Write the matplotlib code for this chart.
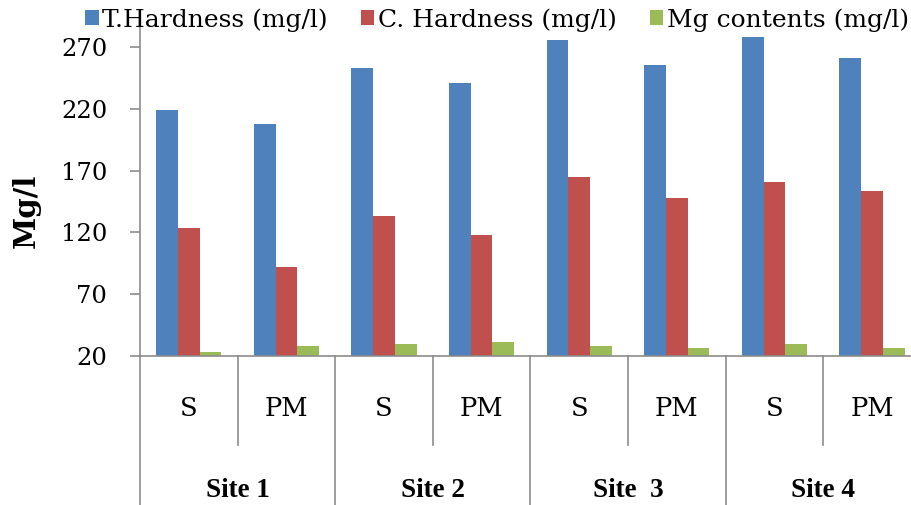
import matplotlib
matplotlib.use("Agg")
import matplotlib.pyplot as plt
import numpy as np

sites = ["Site 1", "Site 2", "Site  3", "Site 4"]
subcats = ["S", "PM"]
series_names = ["T.Hardness (mg/l)", "C. Hardness (mg/l)", "Mg contents (mg/l)"]
t_hardness = [219, 208, 253, 241, 276, 256, 278, 261]
c_hardness = [124, 92, 133, 118, 165, 148, 161, 154]
mg_contents = [23.5, 28, 29.5, 31, 28, 26.5, 29.5, 26.5]
yticks = [20, 70, 120, 170, 220, 270]

colors = ["#4F81BD", "#C0504D", "#9BBB59"]
axis_col = "#8C8C8C"

W, H = 911, 505
fig = plt.figure(figsize=(W / 100, H / 100), dpi=100)

# axes geometry in pixels
x0, xw = 140, 8 * 97.6
y_base, y_top = 356, 25
ax = fig.add_axes([x0 / W, 1 - y_base / H, xw / W, (y_base - y_top) / H])
ax.set_xlim(0, 8)
ax.set_ylim(20, 288)

n = len(t_hardness)
x = np.arange(n) + 0.5
bw = 0.222
for k, vals in enumerate([t_hardness, c_hardness, mg_contents]):
    ax.bar(x + (k - 1) * bw, vals, width=bw, color=colors[k], label=series_names[k],
           edgecolor="none", zorder=2)

for s in ["top", "right"]:
    ax.spines[s].set_visible(False)
for s in ["left", "bottom"]:
    ax.spines[s].set_color(axis_col)
    ax.spines[s].set_linewidth(1.2)

ax.set_yticks(yticks)
ax.set_yticklabels([str(v) for v in yticks], family="DejaVu Serif", fontsize=17.5)
ax.tick_params(axis="y", direction="out", length=7.5, width=1.2, color=axis_col, pad=16)
ax.set_xticks([])

# category axis frame lines
axh = y_base - y_top
def ay(px):
    return (y_base - px) / axh

tr = ax.get_xaxis_transform()
ax.plot([0, 0], [0, ay(520)], transform=tr, color=axis_col, lw=1.2, clip_on=False)
for b in range(1, 9):
    ybot = ay(445) if b % 2 == 1 else ay(520)
    ax.plot([b, b], [0, ybot], transform=tr, color=axis_col, lw=1.2, clip_on=False)

for i in range(n):
    ax.text(x[i], ay(409), subcats[i % 2], transform=tr, ha="center", va="center",
            family="DejaVu Serif", fontsize=18.5, clip_on=False)

for j, name in enumerate(sites):
    ax.text(2 * j + 1, ay(497), name, transform=tr, ha="center", va="baseline",
            family="Liberation Serif", fontweight="bold", fontsize=19.5, clip_on=False)

fig.text(26 / W, 1 - 211 / H, "Mg/l", rotation=90, ha="center", va="center",
         family="DejaVu Serif", fontweight="bold", fontsize=21)

handles, labels = ax.get_legend_handles_labels()
leg = fig.legend(handles, labels, loc="center left", bbox_to_anchor=(85 / W, 1 - 20 / H),
                 ncol=3, frameon=False, borderpad=0, borderaxespad=0,
                 handlelength=0.55, handleheight=0.55, handletextpad=0.15,
                 columnspacing=1.3, prop={"family": "DejaVu Serif", "size": 18})

fig.savefig("out.png", dpi=100)
